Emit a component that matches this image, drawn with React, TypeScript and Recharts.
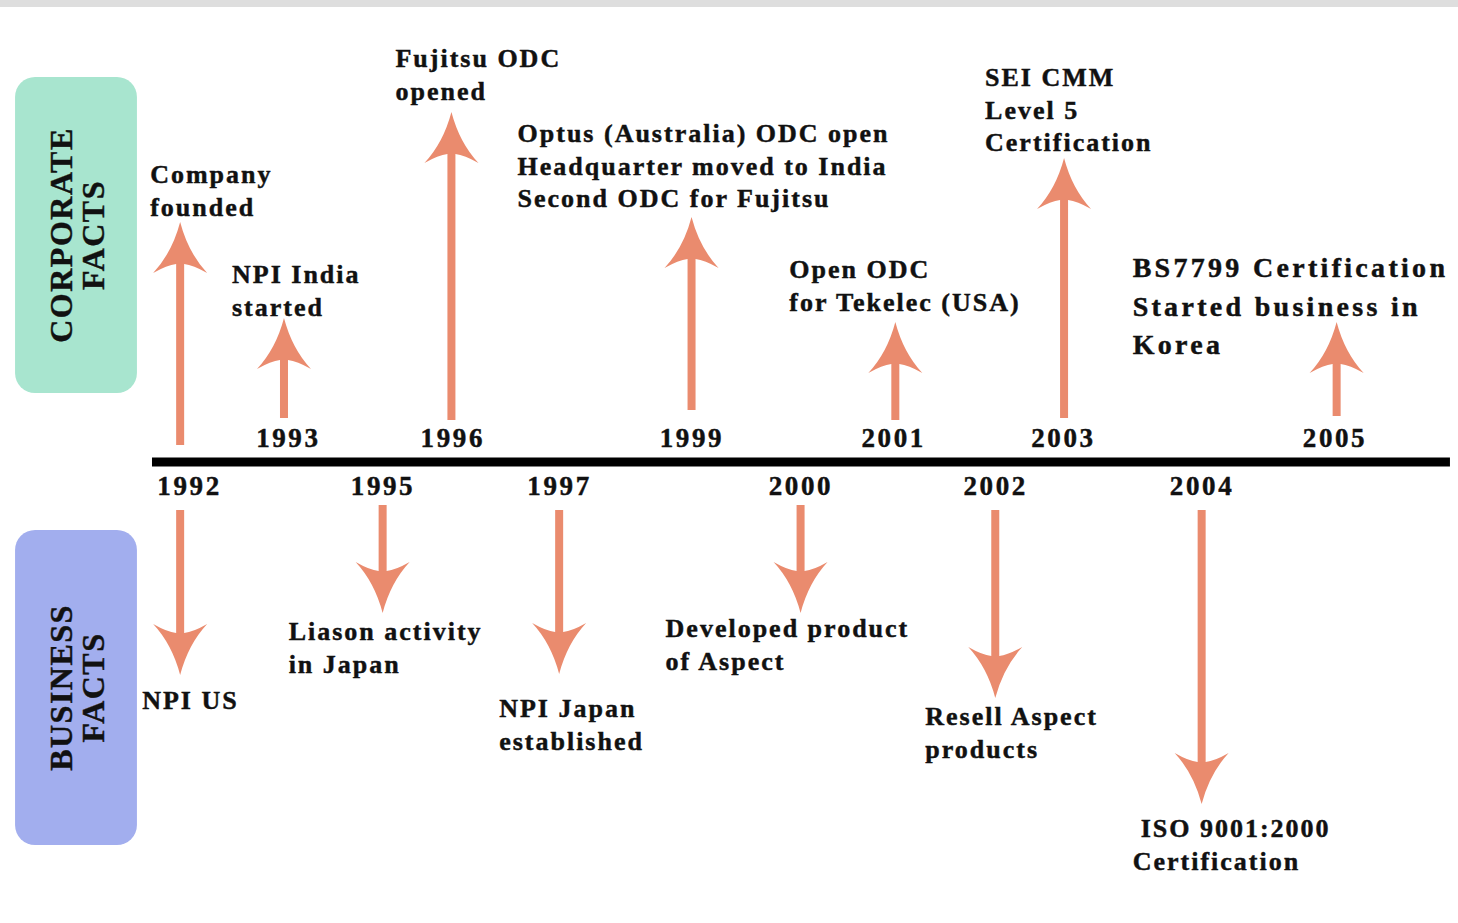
import { ComposedChart, Bar, XAxis, YAxis, ReferenceLine, ReferenceArea, ReferenceDot } from 'recharts';

// position along the timeline (0 = left end, 100 = right end)
// arrow values: distance above (+) / below (-) the timeline
const corporateYears = ['1992', '1993', '1996', '1999', '2001', '2003', '2005'];
const corporatePos = [2.2, 10.2, 23.1, 41.6, 57.3, 70.3, 91.3];
const corporateTail = [17, 44, 42, 52, 42, 44, 46];
const corporateTip = [240, 144, 350, 245, 140, 304, 140];
const corporateText = [
  ['Company', 'founded'],
  ['NPI India', 'started'],
  ['Fujitsu ODC', 'opened'],
  ['Optus (Australia) ODC open', 'Headquarter moved to India', 'Second ODC for Fujitsu'],
  ['Open ODC', 'for Tekelec (USA)'],
  ['SEI CMM', 'Level 5', 'Certification'],
  ['BS7799 Certification', 'Started business in', 'Korea'],
];

const businessYears = ['1992', '1995', '1997', '2000', '2002', '2004'];
const businessPos = [2.2, 17.8, 31.4, 50.0, 65.0, 80.9];
const businessTail = [-48, -43, -48, -43, -48, -48];
const businessTip = [-213, -151, -212, -151, -236, -342];
const businessText = [
  ['NPI US'],
  ['Liason activity', 'in Japan'],
  ['NPI Japan', 'established'],
  ['Developed product', 'of Aspect'],
  ['Resell Aspect', 'products'],
  ['ISO 9001:2000', 'Certification'],
];

// label placement relative to the arrow tip (left edge, first baseline)
const corporateLabelAt = [[-30, -39], [-52, -35], [-56, -45], [-174, -75], [-106, -44], [-79, -72], [-204, -45]];
const businessLabelAt = [[-38, 34], [-94, 27], [-60, 43], [-135, 24], [-70, 27], [-61, 33]];
const businessIndent: Record<number, number[]> = { 5: [0, -8] };
const corporateYearShift = [0, 4, 1, 0, -2, -1, -2];

const panels = [
  { lines: ['CORPORATE', 'FACTS'], fill: '#A8E5CF', x1: -10.55, x2: -1.16, y1: 69, y2: 385 },
  { lines: ['BUSINESS', 'FACTS'], fill: '#A2AEEE', x1: -10.55, x2: -1.16, y1: -383, y2: -68 },
];

const FONT = '"Liberation Serif", "Times New Roman", serif';
const ARROW = '#EA8B6E';
const INK = '#111';

type Row = { pos: number; corp?: [number, number]; biz?: [number, number]; corpIdx?: number; bizIdx?: number };

const rowMap = new Map<number, Row>();
corporatePos.forEach((p, i) => {
  const r = rowMap.get(p) ?? { pos: p };
  r.corp = [corporateTail[i], corporateTip[i]];
  r.corpIdx = i;
  rowMap.set(p, r);
});
businessPos.forEach((p, i) => {
  const r = rowMap.get(p) ?? { pos: p };
  r.biz = [businessTail[i], businessTip[i]];
  r.bizIdx = i;
  rowMap.set(p, r);
});
const rows = [...rowMap.values()].sort((a, b) => a.pos - b.pos);

const arrowShape = (group: 'corp' | 'biz') => (props: any) => {
  const { x, y, width, height, payload } = props;
  const idx = group === 'corp' ? payload?.corpIdx : payload?.bizIdx;
  if (idx == null || !Number.isFinite(y) || !Number.isFinite(height)) return <g />;
  const up = group === 'corp';
  const cx = x + width / 2;
  const tipY = up ? Math.min(y, y + height) : Math.max(y, y + height);
  const tailY = up ? Math.max(y, y + height) : Math.min(y, y + height);
  const s = up ? 1 : -1;
  const L = 51, W = 27, hw = 4, notch = 9;
  const d = [
    `M ${cx} ${tipY}`,
    `Q ${cx + 8} ${tipY + s * L * 0.6} ${cx + W} ${tipY + s * L}`,
    `Q ${cx + hw + 9} ${tipY + s * (L - notch + 1)} ${cx + hw} ${tipY + s * (L - notch)}`,
    `L ${cx + hw} ${tailY}`,
    `L ${cx - hw} ${tailY}`,
    `L ${cx - hw} ${tipY + s * (L - notch)}`,
    `Q ${cx - hw - 9} ${tipY + s * (L - notch + 1)} ${cx - W} ${tipY + s * L}`,
    `Q ${cx - 8} ${tipY + s * L * 0.6} ${cx} ${tipY}`,
    'Z',
  ].join(' ');

  const lines = up ? corporateText[idx] : businessText[idx];
  const [dx, dy] = up ? corporateLabelAt[idx] : businessLabelAt[idx];
  const big = up && idx === 6;
  const fontSize = big ? 28 : 26;
  const lh = big ? 38.5 : 32.5;
  const indent = (!up && businessIndent[idx]) || [];

  return (
    <g>
      <path d={d} fill={ARROW} />
      <text
        fontFamily={FONT}
        fontWeight="bold"
        fontSize={fontSize}
        letterSpacing={big ? 3.3 : 2}
        fill={INK}
        stroke={INK}
        strokeWidth={0.45}
      >
        {lines.map((line, i) => (
          <tspan key={i} x={cx + dx + (indent[i] ?? 0)} y={tipY + dy + i * lh}>
            {line}
          </tspan>
        ))}
      </text>
    </g>
  );
};

const yearShape = (label: string, above: boolean, shift: number) => (p: any) => (
  <text
    x={p.cx + shift}
    y={above ? p.cy - 15 : p.cy + 33}
    textAnchor="middle"
    fontFamily={FONT}
    fontWeight="bold"
    fontSize={27}
    letterSpacing={2.6}
    fill={INK}
    stroke={INK}
    strokeWidth={0.45}
  >
    {label}
  </text>
);

const panelShape = (lines: string[], fill: string) => (p: any) => {
  const cy = p.y + p.height / 2;
  return (
    <g>
      <rect x={p.x} y={p.y} width={p.width} height={p.height} rx={20} ry={20} fill={fill} />
      {lines.map((line, i) => {
        const bx = p.x + 57 + i * 32;
        return (
          <text
            key={line}
            x={bx}
            y={cy}
            transform={`rotate(-90 ${bx} ${cy})`}
            textAnchor="middle"
            fontFamily={FONT}
            fontWeight="bold"
            fontSize={32}
            letterSpacing={1.5}
            fill={INK}
            stroke={INK}
            strokeWidth={0.4}
          >
            {line}
          </text>
        );
      })}
    </g>
  );
};

const App = () => {
  return (
    <div style={{ position: 'absolute', left: 0, top: 0, width: 1458, height: 923, background: '#fff', overflow: 'hidden' }}>
      <div style={{ position: 'absolute', left: 0, top: 0, width: 1458, height: 7, background: '#DEDEDE' }} />
      <ComposedChart width={1458} height={923} data={rows} margin={{ top: 0, right: 0, bottom: 0, left: 0 }}>
        <XAxis xAxisId="c" type="number" dataKey="pos" domain={[-11.71, 100.62]} allowDataOverflow hide />
        <XAxis xAxisId="b" type="number" dataKey="pos" domain={[-11.71, 100.62]} allowDataOverflow hide />
        <YAxis type="number" domain={[-461, 462]} allowDataOverflow hide />

        {panels.map((pn) => (
          <ReferenceArea
            key={pn.lines[0]}
            xAxisId="c"
            x1={pn.x1}
            x2={pn.x2}
            y1={pn.y1}
            y2={pn.y2}
            shape={panelShape(pn.lines, pn.fill)}
          />
        ))}

        <ReferenceLine
          xAxisId="c"
          segment={[{ x: 0, y: 0 }, { x: 100, y: 0 }]}
          stroke="#000"
          strokeWidth={9}
        />

        <Bar xAxisId="c" dataKey="corp" barSize={8} shape={arrowShape('corp')} isAnimationActive={false} />
        <Bar xAxisId="b" dataKey="biz" barSize={8} shape={arrowShape('biz')} isAnimationActive={false} />

        {corporateYears.map((yr, i) =>
          businessYears.includes(yr) ? null : (
            <ReferenceDot
              key={'c' + yr}
              xAxisId="c"
              x={corporatePos[i]}
              y={0}
              r={0}
              shape={yearShape(yr, true, corporateYearShift[i])}
            />
          )
        )}
        {businessYears.map((yr, i) => (
          <ReferenceDot
            key={'b' + yr}
            xAxisId="c"
            x={businessPos[i]}
            y={0}
            r={0}
            shape={yearShape(yr, false, i === 0 ? 9 : 0)}
          />
        ))}
      </ComposedChart>
    </div>
  );
};

export default App;
